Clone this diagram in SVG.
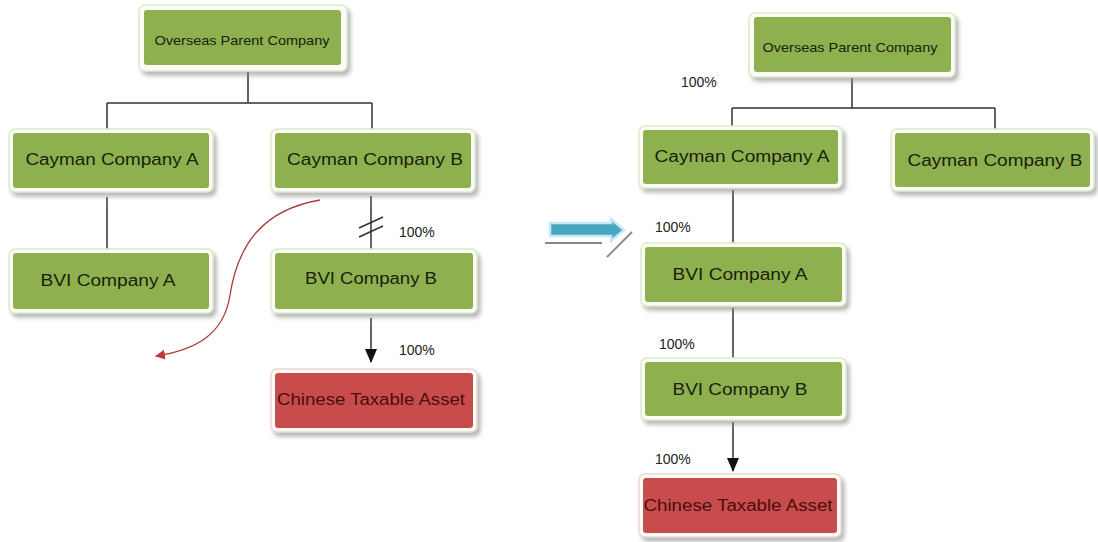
<svg xmlns="http://www.w3.org/2000/svg" width="1098" height="542" viewBox="0 0 1098 542">
<defs>
<filter id="sh" x="-10%" y="-20%" width="125%" height="150%">
<feDropShadow dx="3" dy="4" stdDeviation="2" flood-color="#8a8a8a" flood-opacity="0.6"/>
</filter>
<marker id="ab" viewBox="0 0 14 12" refX="13" refY="6" markerWidth="14" markerHeight="12" orient="auto" markerUnits="userSpaceOnUse">
<path d="M0,0 L14,6 L0,12 z" fill="#111"/>
</marker>
<marker id="ar" viewBox="0 0 10 10" refX="9" refY="5" markerWidth="10" markerHeight="10" orient="auto" markerUnits="userSpaceOnUse">
<path d="M0,0 L10,5 L0,10 z" fill="#c0393b"/>
</marker>
</defs>
<style>
.frame{fill:#fbfdf6;stroke:#dfe9cc;stroke-width:1.5;filter:url(#sh)}
.g{fill:#8fb04f}
.r{fill:#c94c4d}
.t{font-family:"Liberation Sans",Arial,sans-serif;font-size:16px;fill:#18220e;text-anchor:middle}
.ts{font-family:"Liberation Sans",Arial,sans-serif;font-size:13px;fill:#18220e;text-anchor:middle}
.tr{font-family:"Liberation Sans",Arial,sans-serif;font-size:16px;fill:#4a0c0c;text-anchor:middle}
.p{font-family:"Liberation Sans",Arial,sans-serif;font-size:14px;fill:#222}
.c{stroke:#333;stroke-width:1.5;fill:none}
</style>
<rect width="1098" height="542" fill="#ffffff"/>

<g id="connectors">
<path class="c" d="M248,72 V103 M107,103 H372 M107,103 V130 M372,103 V130"/>
<path class="c" d="M107,197 V250"/>
<path class="c" d="M371,196 V250"/>
<path class="c" d="M359,228 L383,217 M359,237 L383,226" stroke-width="1.2"/>
<path class="c" d="M371,318 V362" marker-end="url(#ab)"/>
<path d="M320,200 C262,210 238,245 230,295 C224,335 195,350 156,356" fill="none" stroke="#a83a3c" stroke-width="1.3" marker-end="url(#ar)"/>
<path class="c" d="M852,78 V108 M732,108 H995 M732,108 V127 M995,108 V130"/>
<path class="c" d="M733,190 V245"/>
<path class="c" d="M733,308 V360"/>
<path class="c" d="M733,422 V471" marker-end="url(#ab)"/>
</g>

<g id="transition-arrow">
<path d="M550,223 L611,223 L611,219 L624,230 L611,241 L611,236 L550,236 Z" fill="#4aa6bf" stroke="#c5eaf3" stroke-width="2.5"/>
<path d="M545,243 H602" stroke="#888" stroke-width="1.8"/>
<path d="M607,257 L632,232" stroke="#888" stroke-width="1.8"/>
</g>

<g id="l-parent">
<rect class="frame" x="139" y="5" width="208" height="66" rx="6"/>
<rect class="g" x="144" y="10" width="197" height="55" rx="3"/>
<text class="ts" x="242" y="45" textLength="175" lengthAdjust="spacingAndGlyphs">Overseas Parent Company</text>
</g>
<g id="l-caymanA">
<rect class="frame" x="9" y="129" width="204" height="63" rx="6"/>
<rect class="g" x="13" y="133" width="196" height="55" rx="3"/>
<text class="t" x="112" y="165" textLength="173" lengthAdjust="spacingAndGlyphs">Cayman Company A</text>
</g>
<g id="l-caymanB">
<rect class="frame" x="271" y="129" width="204" height="63" rx="6"/>
<rect class="g" x="275" y="133" width="196" height="55" rx="3"/>
<text class="t" x="375" y="165" textLength="176" lengthAdjust="spacingAndGlyphs">Cayman Company B</text>
</g>
<g id="l-bviA">
<rect class="frame" x="9" y="249" width="204" height="64" rx="6"/>
<rect class="g" x="13" y="253" width="196" height="56" rx="3"/>
<text class="t" x="108" y="286" textLength="135" lengthAdjust="spacingAndGlyphs">BVI Company A</text>
</g>
<g id="l-bviB">
<rect class="frame" x="271" y="249" width="206" height="64" rx="6"/>
<rect class="g" x="275" y="253" width="198" height="56" rx="3"/>
<text class="t" x="371" y="284" textLength="132" lengthAdjust="spacingAndGlyphs">BVI Company B</text>
</g>
<g id="l-asset">
<rect class="frame" x="271" y="369" width="206" height="63" rx="6" style="stroke:#f0d5d5"/>
<rect class="r" x="275" y="373" width="198" height="55" rx="3"/>
<text class="tr" x="371" y="405" textLength="188" lengthAdjust="spacingAndGlyphs">Chinese Taxable Asset</text>
</g>
<g id="l-labels">
<text class="p" x="399" y="237">100%</text>
<text class="p" x="399" y="355">100%</text>
</g>

<g id="r-parent">
<rect class="frame" x="749" y="13" width="206" height="64" rx="6"/>
<rect class="g" x="754" y="17" width="197" height="55" rx="3"/>
<text class="ts" x="850" y="52" textLength="175" lengthAdjust="spacingAndGlyphs">Overseas Parent Company</text>
</g>
<g id="r-caymanA">
<rect class="frame" x="639" y="126" width="203" height="62" rx="6"/>
<rect class="g" x="643" y="130" width="195" height="54" rx="3"/>
<text class="t" x="742" y="162" textLength="175" lengthAdjust="spacingAndGlyphs">Cayman Company A</text>
</g>
<g id="r-caymanB">
<rect class="frame" x="891" y="129" width="203" height="62" rx="6"/>
<rect class="g" x="895" y="133" width="195" height="54" rx="3"/>
<text class="t" x="995" y="166" textLength="175" lengthAdjust="spacingAndGlyphs">Cayman Company B</text>
</g>
<g id="r-bviA">
<rect class="frame" x="641" y="243" width="205" height="63" rx="6"/>
<rect class="g" x="645" y="247" width="197" height="55" rx="3"/>
<text class="t" x="740" y="280" textLength="135" lengthAdjust="spacingAndGlyphs">BVI Company A</text>
</g>
<g id="r-bviB">
<rect class="frame" x="641" y="358" width="205" height="62" rx="6"/>
<rect class="g" x="645" y="362" width="197" height="54" rx="3"/>
<text class="t" x="740" y="395" textLength="135" lengthAdjust="spacingAndGlyphs">BVI Company B</text>
</g>
<g id="r-asset">
<rect class="frame" x="639" y="474" width="202" height="63" rx="6" style="stroke:#f0d5d5"/>
<rect class="r" x="643" y="478" width="194" height="55" rx="3"/>
<text class="tr" x="738" y="511" textLength="189" lengthAdjust="spacingAndGlyphs">Chinese Taxable Asset</text>
</g>
<g id="r-labels">
<text class="p" x="681" y="87">100%</text>
<text class="p" x="655" y="232">100%</text>
<text class="p" x="659" y="349">100%</text>
<text class="p" x="655" y="464">100%</text>
</g>
</svg>
